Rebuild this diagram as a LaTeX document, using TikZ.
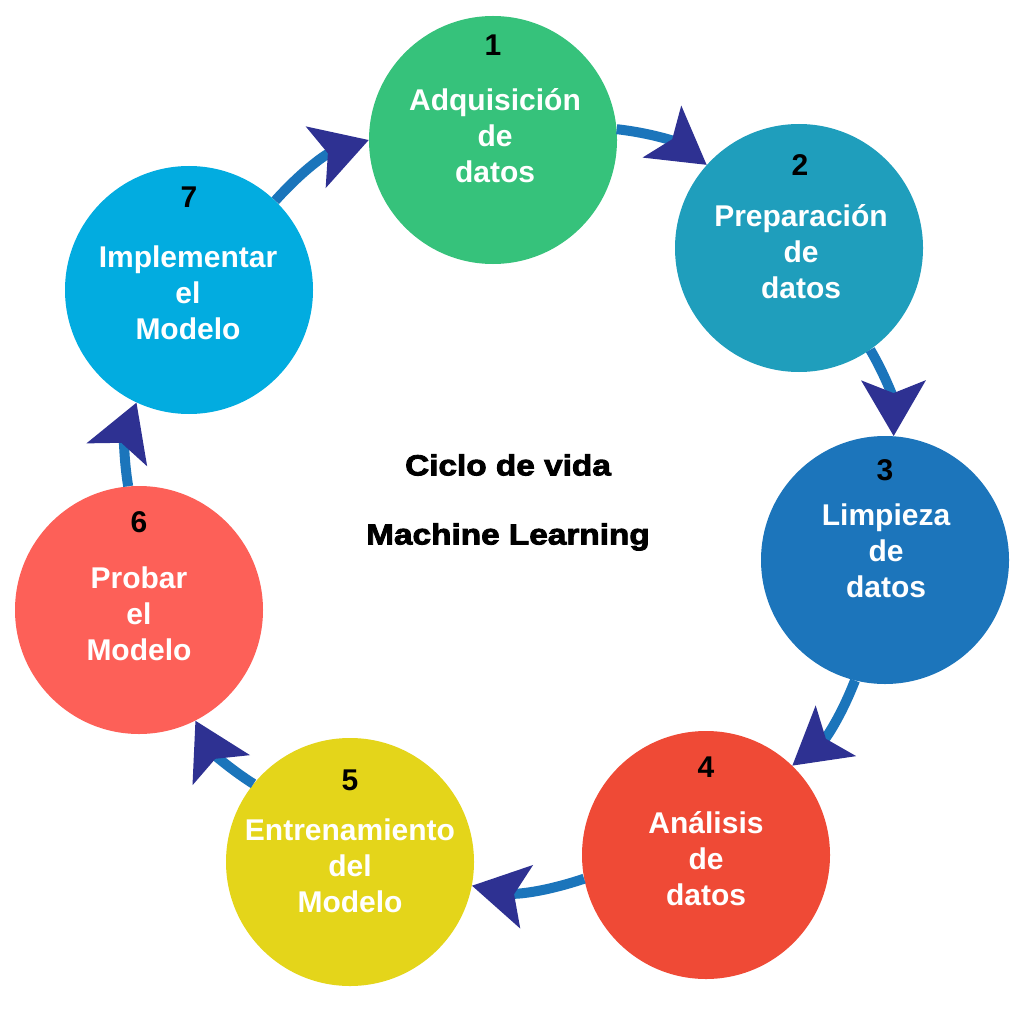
\documentclass[tikz,border=0pt]{standalone}
\usepackage{fontspec}
\setmainfont{Liberation Sans}
\newfontfamily\blackfont{Liberation Sans Bold}[FakeStretch=1.15,FakeBold=3]
\usetikzlibrary{arrows.meta}
\definecolor{cA}{HTML}{36C27B}
\definecolor{cB}{HTML}{1F9EBC}
\definecolor{cC}{HTML}{1C75BB}
\definecolor{cD}{HTML}{EF4A36}
\definecolor{cE}{HTML}{E4D51A}
\definecolor{cF}{HTML}{FD6058}
\definecolor{cG}{HTML}{02ACE0}
\definecolor{linecol}{HTML}{1B75BB}
\definecolor{tipcol}{HTML}{2E3192}
\tikzset{
  stage/.style={circle, minimum size=248pt, inner sep=0pt, fill=#1},
  num/.style={font=\fontsize{30}{36}\selectfont\bfseries, text=black},
  lbl/.style={font=\fontsize{30}{36}\selectfont\bfseries, text=white, align=center},
  center/.style={font=\fontsize{29}{34}\selectfont\blackfont, text=black},
  conn/.style={line width=10pt, draw=linecol, bend left=15,
    -{Stealth[length=55pt, width=63pt, inset=12pt, color=tipcol]}}
}
\begin{document}
\begin{tikzpicture}[x=1pt,y=-1pt]
\useasboundingbox (0,0) rectangle (1024,1024);
\fill[white] (0,0) rectangle (1024,1024);
% circles
\node[stage=cA] (c1) at (493,140) {};
\node[stage=cB] (c2) at (799,248) {};
\node[stage=cC] (c3) at (885,560) {};
\node[stage=cD] (c4) at (706,855) {};
\node[stage=cE] (c5) at (350,862) {};
\node[stage=cF] (c6) at (139,610) {};
\node[stage=cG] (c7) at (189,290) {};
% connectors
\draw[conn] (c1.5) to (c2.138);
\draw[conn] (c2.-55) to (c3.86);
\draw[conn] (c3.-104) to (c4.46);
\draw[conn] (c4.-169) to (c5.-11);
\draw[conn] (c5.141) to (c6.-63);
\draw[conn] (c6.95) to (c7.-115);
\draw[conn] (c7.46) to (c1.180);
% numbers
\node[num] (n1) at (493,45) {1};
\node[num] (n2) at (800,165) {2};
\node[num] (n3) at (885,470) {3};
\node[num] (n4) at (706,767) {4};
\node[num] (n5) at (350,780) {5};
\node[num] (n6) at (139,522) {6};
\node[num] (n7) at (189,197) {7};
% labels
\node[lbl] (l1) at (495,136) {Adquisición\\de\\datos};
\node[lbl] (l2) at (801,252) {Preparación\\de\\datos};
\node[lbl] (l3) at (886,551) {Limpieza\\de\\datos};
\node[lbl] (l4) at (706,859) {Análisis\\de\\datos};
\node[lbl] (l5) at (350,866) {Entrenamiento\\del\\Modelo};
\node[lbl] (l6) at (139,614) {Probar\\el\\Modelo};
\node[lbl] (l7) at (188,293) {Implementar\\el\\Modelo};
% center text
\node[center] (t1) at (508,465) {Ciclo de vida};
\node[center] (t2) at (508,537) {Machine Learning};
\end{tikzpicture}
\end{document}
